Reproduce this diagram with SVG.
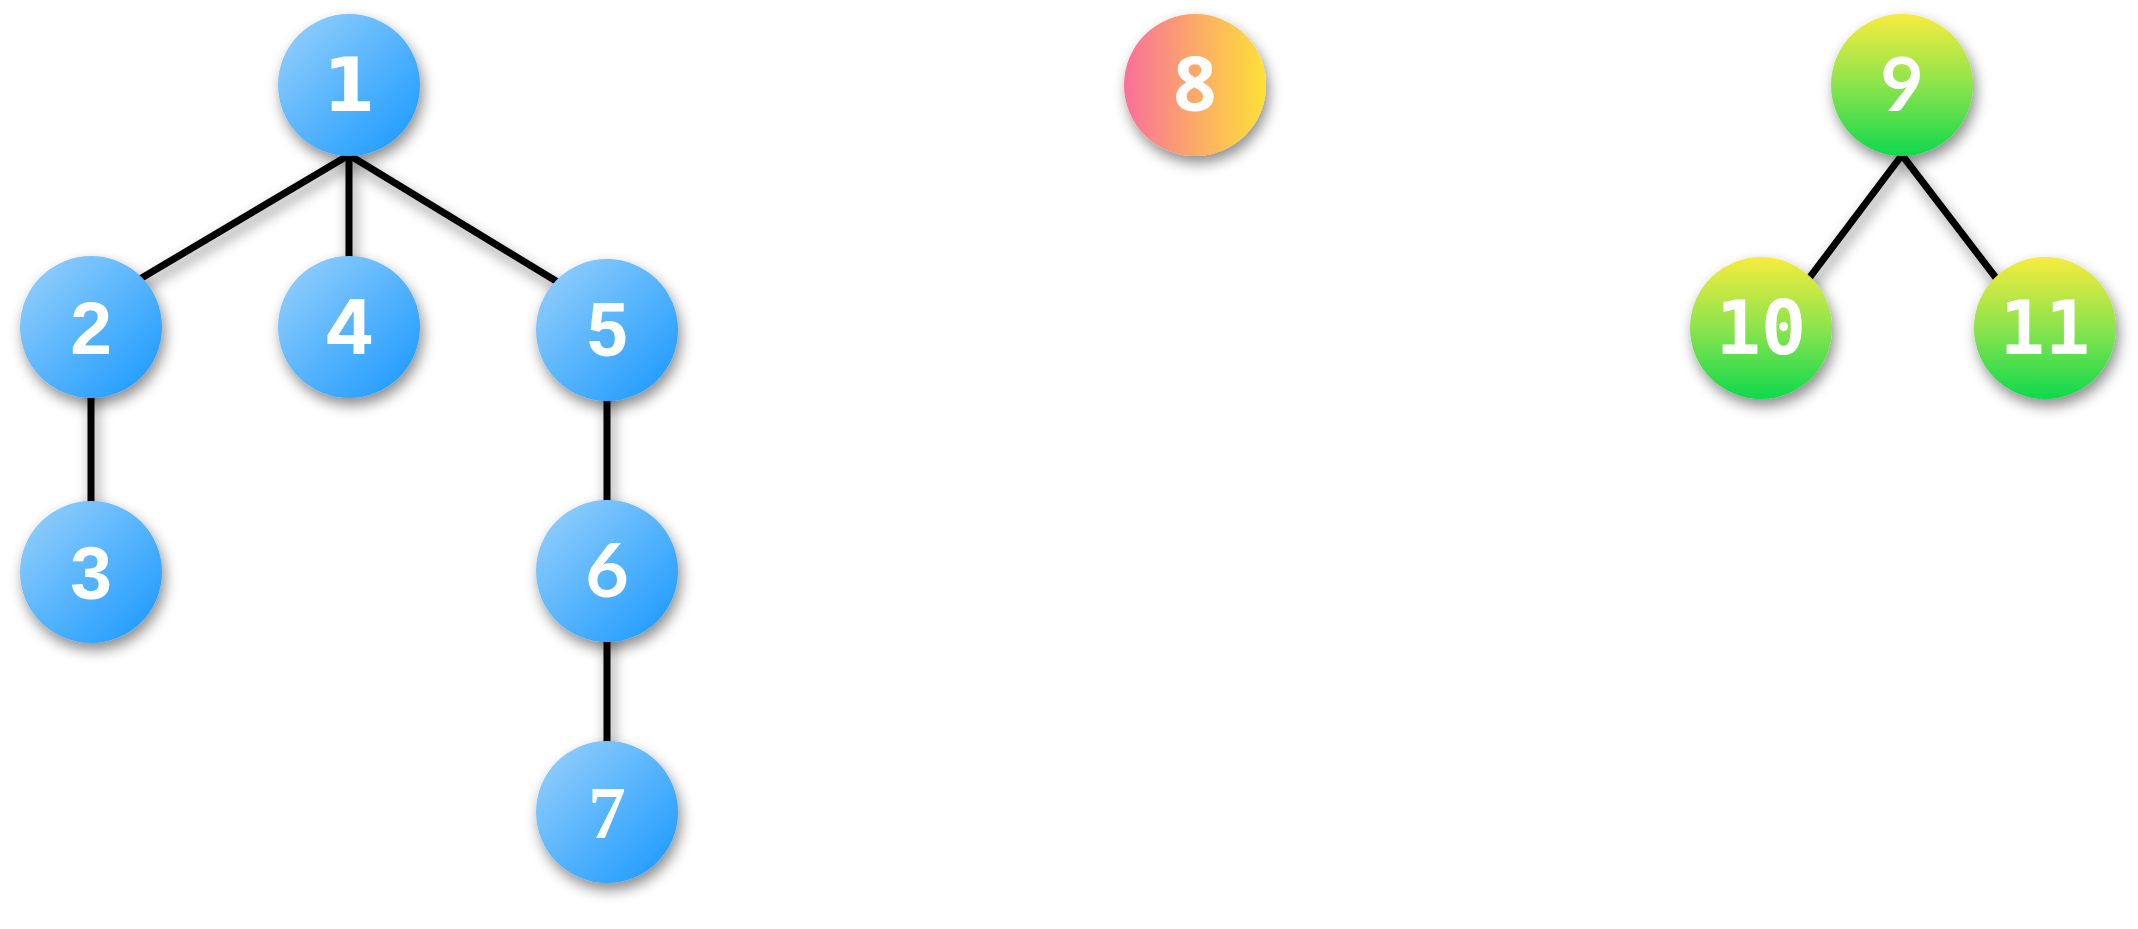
<svg xmlns="http://www.w3.org/2000/svg" width="2138" height="929" viewBox="0 0 2138 929">
<defs>
<linearGradient id="gBlue" x1="0" y1="0" x2="1" y2="1">
<stop offset="0" stop-color="#9bd2fb"/>
<stop offset="1" stop-color="#1597ff"/>
</linearGradient>
<linearGradient id="gOrange" x1="0" y1="0" x2="1" y2="0">
<stop offset="0" stop-color="#fa6f9a"/>
<stop offset="0.5" stop-color="#fba968"/>
<stop offset="1" stop-color="#fee138"/>
</linearGradient>
<linearGradient id="gGreen" x1="0" y1="0" x2="0" y2="1">
<stop offset="0" stop-color="#f7ec3e"/>
<stop offset="0.5" stop-color="#8be44d"/>
<stop offset="1" stop-color="#0fd84d"/>
</linearGradient>
<filter id="sh" x="-40%" y="-40%" width="180%" height="180%">
<feDropShadow dx="3" dy="7" stdDeviation="7" flood-color="#000" flood-opacity="0.45"/>
</filter>
</defs>
<style>
.edge{stroke:#000;stroke-width:7;fill:none}
.blue{fill:url(#gBlue)}
.orange{fill:url(#gOrange)}
.green{fill:url(#gGreen)}
.lbl{fill:#fff;font-size:75px;font-weight:700;text-anchor:middle}
</style>
<g id="connectors" filter="url(#sh)">
<line class="edge" x1="349" y1="155" x2="91" y2="308"/>
<line class="edge" x1="349" y1="155" x2="349" y2="300"/>
<line class="edge" x1="349" y1="155" x2="607" y2="312"/>
<line class="edge" x1="91" y1="380" x2="91" y2="540"/>
<line class="edge" x1="607" y1="380" x2="607" y2="540"/>
<line class="edge" x1="607" y1="620" x2="607" y2="780"/>
<line class="edge" x1="1902" y1="155" x2="1761" y2="342"/>
<line class="edge" x1="1902" y1="155" x2="2045" y2="342"/>
</g>
<g id="node1" filter="url(#sh)"><circle class="blue" cx="349" cy="85" r="71"/><text class="lbl" style="font-family:'DejaVu Sans',sans-serif" x="349" y="111">1</text></g>
<g id="node2" filter="url(#sh)"><circle class="blue" cx="91" cy="327" r="71"/><text class="lbl" style="font-family:'Liberation Sans',sans-serif" x="91" y="354">2</text></g>
<g id="node3" filter="url(#sh)"><circle class="blue" cx="91" cy="572" r="71"/><text class="lbl" style="font-family:'Liberation Sans',sans-serif" x="91" y="599">3</text></g>
<g id="node4" filter="url(#sh)"><circle class="blue" cx="349" cy="327" r="71"/><text class="lbl" style="font-family:Inter,sans-serif" x="349" y="354">4</text></g>
<g id="node5" filter="url(#sh)"><circle class="blue" cx="607" cy="330" r="71"/><text class="lbl" style="font-family:Roboto,sans-serif" x="607" y="356">5</text></g>
<g id="node6" filter="url(#sh)"><circle class="blue" cx="607" cy="571" r="71"/><text class="lbl" style="font-family:Lato,sans-serif" x="607" y="597">6</text></g>
<g id="node7" filter="url(#sh)"><circle class="blue" cx="607" cy="812" r="71"/><text class="lbl" style="font-family:'Liberation Serif',serif" x="607" y="838">7</text></g>
<g id="node8" filter="url(#sh)"><circle class="orange" cx="1195" cy="85" r="71"/><text class="lbl" style="font-family:'Open Sans',sans-serif" x="1195" y="111">8</text></g>
<g id="node9" filter="url(#sh)"><circle class="green" cx="1902" cy="85" r="71"/><text class="lbl" style="font-family:Lato,sans-serif" x="1902" y="111">9</text></g>
<g id="node10" filter="url(#sh)"><circle class="green" cx="1761" cy="328" r="71"/><text class="lbl" style="font-family:'DejaVu Sans Mono',monospace" x="1761" y="354">10</text></g>
<g id="node11" filter="url(#sh)"><circle class="green" cx="2045" cy="328" r="71"/><text class="lbl" style="font-family:'DejaVu Sans Mono',monospace" x="2045" y="354">11</text></g>
</svg>
